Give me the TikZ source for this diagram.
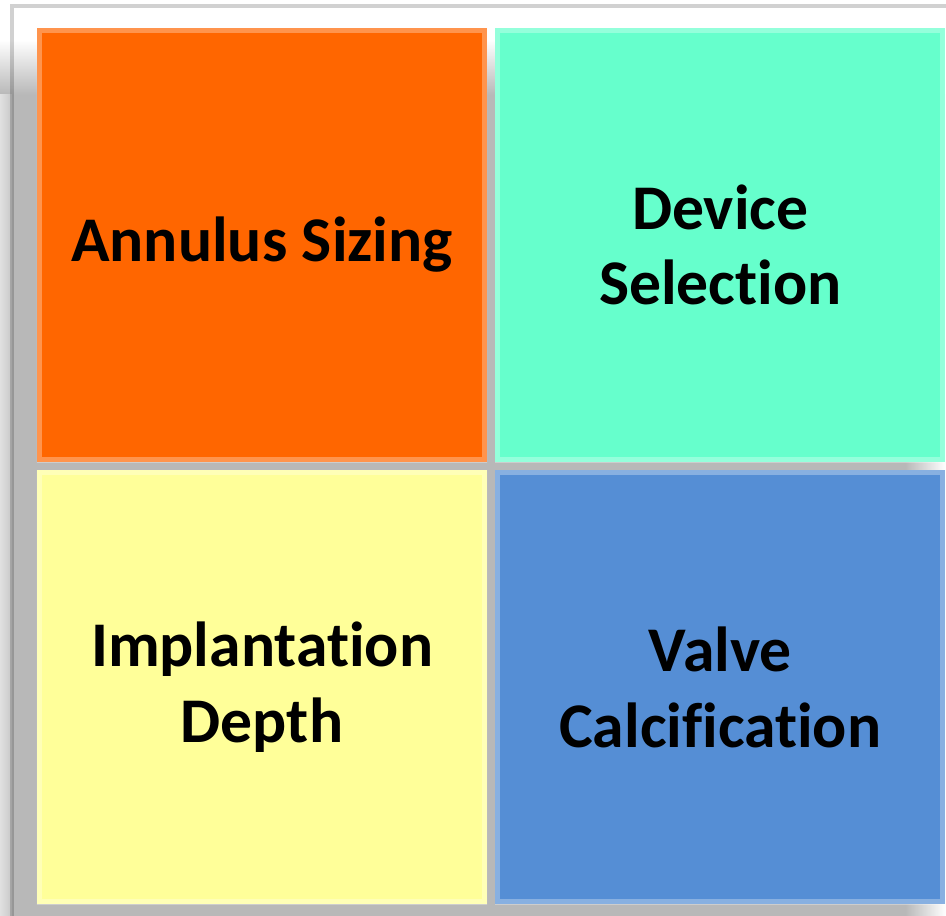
\documentclass[tikz,border=0pt]{standalone}
\usepackage{fontspec}
\setmainfont[Ligatures=NoCommon]{Carlito}
\usepackage{xcolor}
\usepackage{tikz}
\usetikzlibrary{positioning}
\definecolor{annorange}{HTML}{FF6600}
\definecolor{devteal}{HTML}{66FFCC}
\definecolor{impyellow}{HTML}{FFFF99}
\definecolor{valblue}{HTML}{558ED5}
\tikzset{
    tile/.style={rectangle, inner sep=0pt, outer sep=0pt, minimum width=4.5cm, minimum height=4.34cm,
        align=center, font=\fontsize{18.1}{21.5}\selectfont\bfseries,
        path picture={\draw[white, opacity=0.3, line width=3pt]
            (path picture bounding box.south west) rectangle (path picture bounding box.north east);}},
    shade/.style={fill=black!28}
}

\begin{document}
\begin{tikzpicture}[x=0.01cm, y=-0.01cm]
    \useasboundingbox (0,0) rectangle (946,916);
    \clip (0,0) rectangle (946,916);
    % shadow behind the grid
    \fill[shade] (12,95) rectangle (905,930);
    \shade[top color=white, bottom color=black!28] (0,40) rectangle (905,95);
    \shade[left color=black!28, right color=white] (905,95) rectangle (946,930);
    \shade[left color=black!12, right color=black!22] (0,95) rectangle (12,930);
    % frame
    \draw[black, draw opacity=0.18, line width=1.1pt] (12,6) rectangle (960,930);
    % tiles
    \node (ann) [tile, fill=annorange] at (262,245) {Annulus Sizing};
    \node (dev) [tile, fill=devteal, right=0.08cm of ann] {Device\\Selection};
    \node (imp) [tile, fill=impyellow, below=0.08cm of ann] {Implantation\\Depth};
    \node (val) [tile, fill=valblue, below=0.08cm of dev] {Valve\\Calcification};
\end{tikzpicture}
\end{document}
